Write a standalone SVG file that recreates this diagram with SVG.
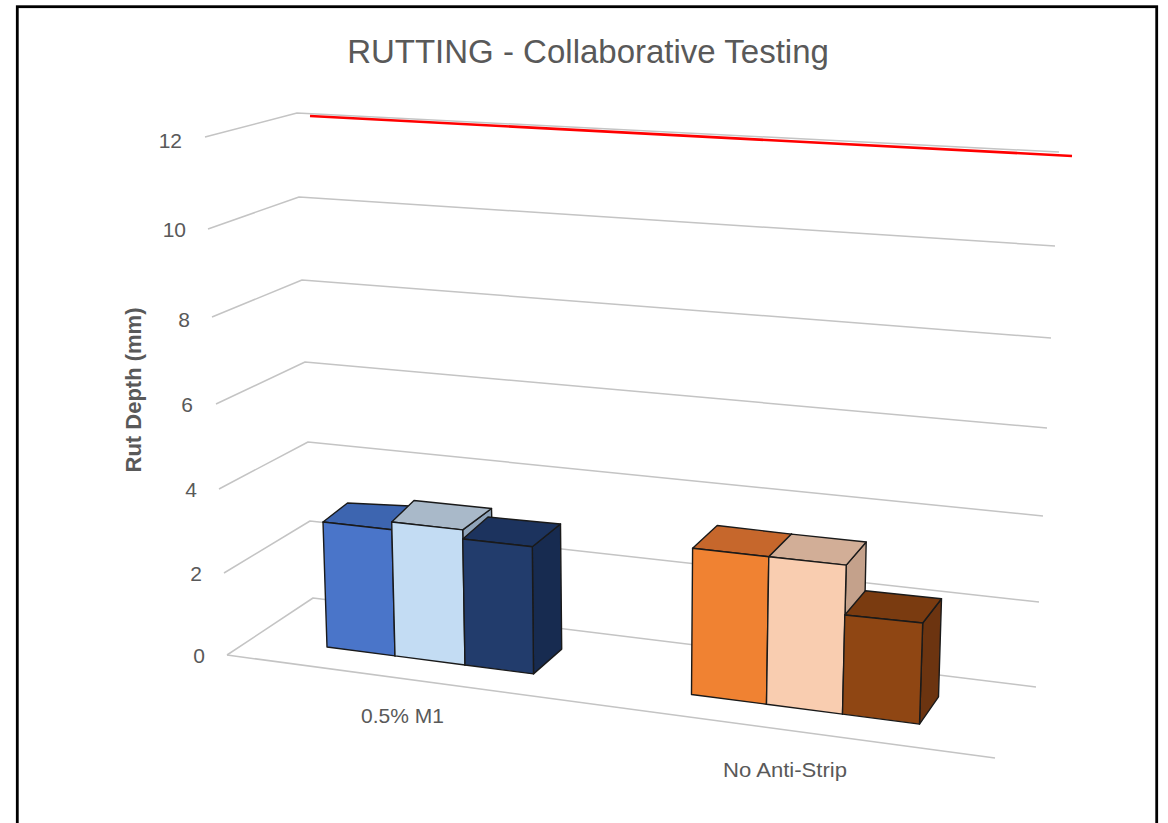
<svg xmlns="http://www.w3.org/2000/svg" width="1168" height="823" viewBox="0 0 1168 823">
  <style>
    .lbl { font-family: "Liberation Sans", Arial, sans-serif; fill: #595959; }
    .tick { font-size: 21px; text-anchor: end; }
    .cat { font-size: 21px; }
    .grid { fill: none; stroke: #c4c4c4; stroke-width: 1.5; stroke-linejoin: round; }
    .face { stroke: #1a1a1a; stroke-width: 1.4; stroke-linejoin: round; }
  </style>

  <!-- chart frame -->
  <rect id="frame" x="0" y="0" width="1168" height="823" fill="#ffffff"/>
  <rect x="17.3" y="6.7" width="1139.4" height="830" fill="none" stroke="#000000" stroke-width="2.8"/>

  <!-- title -->
  <text id="title" class="lbl" x="588" y="63" font-size="33" text-anchor="middle">RUTTING - Collaborative Testing</text>

  <!-- value axis -->
  <g id="value-axis">
    <text class="lbl tick" x="182" y="148">12</text>
    <text class="lbl tick" x="186" y="237">10</text>
    <text class="lbl tick" x="190" y="327">8</text>
    <text class="lbl tick" x="193" y="412">6</text>
    <text class="lbl tick" x="197" y="497">4</text>
    <text class="lbl tick" x="202" y="581">2</text>
    <text class="lbl tick" x="205" y="663">0</text>
    <text class="lbl" transform="translate(141,390) rotate(-90)" font-size="22" font-weight="bold" text-anchor="middle">Rut Depth (mm)</text>
  </g>

  <!-- side wall, back wall and floor gridlines -->
  <g id="gridlines">
    <polyline class="grid" points="205,137 297,113 1059,152"/>
    <polyline class="grid" points="208,229 299,197 1055,246"/>
    <polyline class="grid" points="212,317 302,280 1051,338"/>
    <polyline class="grid" points="216,404 305,362 1047,428"/>
    <polyline class="grid" points="219,489 308,442 1043,516"/>
    <polyline class="grid" points="224,573 310,521 1039,602"/>
    <polyline class="grid" points="227,655 313,598 1036,687"/>
    <line class="grid" x1="227" y1="655" x2="995" y2="758"/>
  </g>

  <!-- limit line -->
  <line id="limit-line" x1="310" y1="116" x2="1072" y2="156" stroke="#ff0000" stroke-width="2.6"/>

  <!-- series columns, painted left to right -->
  <g id="bar-m1-1">
    <polygon class="face" fill="#3a62ad" points="391.9,529.7 420.5,506.5 423.5,632.1 395,655.9"/>
    <polygon class="face" fill="#3d65b0" points="323,522 391.9,529.7 420.5,506.5 347.5,503"/>
    <polygon class="face" fill="#4a75c9" points="323,522 391.9,529.7 395,655.9 327,647"/>
  </g>
  <g id="bar-m1-2">
    <polygon class="face" fill="#8fa4ba" points="462.7,529.9 491.5,508.5 494.8,640.7 465,665"/>
    <polygon class="face" fill="#a9b9c9" points="391.7,522 462.7,529.9 491.5,508.5 414,500.5"/>
    <polygon class="face" fill="#c3dcf3" points="391.7,522 462.7,529.9 465,665 395,655.9"/>
  </g>
  <g id="bar-m1-3">
    <polygon class="face" fill="#172b50" points="532.3,546.8 560.5,524 561.7,649.1 533.5,673.9"/>
    <polygon class="face" fill="#1c335e" points="462.8,539 532.3,546.8 560.5,524 488,517"/>
    <polygon class="face" fill="#223c6c" points="462.8,539 532.3,546.8 533.5,673.9 465,665"/>
  </g>

  <g id="bar-nas-1">
    <polygon class="face" fill="#b85c25" points="768.8,556.7 791.5,534.1 788.9,677.8 766.5,704.2"/>
    <polygon class="face" fill="#c6672c" points="692.6,548.3 768.8,556.7 791.5,534.1 717.2,525.5"/>
    <polygon class="face" fill="#f08232" points="692.6,548.3 768.8,556.7 766.5,704.2 691.5,694.5"/>
  </g>
  <g id="bar-nas-2">
    <polygon class="face" fill="#c4a18b" points="846.2,565.1 866.2,542 863,687.1 842.5,714.1"/>
    <polygon class="face" fill="#d2ae97" points="768.8,556.7 846.2,565.1 866.2,542 791.5,534.1"/>
    <polygon class="face" fill="#f9cdb0" points="768.8,556.7 846.2,565.1 842.5,714.1 766.5,704.2"/>
  </g>
  <g id="bar-nas-3">
    <polygon class="face" fill="#6c3410" points="922.7,623 941.5,598.8 938.5,696.8 919.5,724.1"/>
    <polygon class="face" fill="#7a3b10" points="844.8,615 922.7,623 941.5,598.8 865.4,590.7"/>
    <polygon class="face" fill="#8f4613" points="844.8,615 922.7,623 919.5,724.1 842.5,714.1"/>
  </g>

  <!-- category axis -->
  <g id="category-axis">
    <text class="lbl cat" x="361" y="723">0.5% M1</text>
    <text class="lbl cat" x="723" y="777" textLength="124" lengthAdjust="spacingAndGlyphs">No Anti-Strip</text>
  </g>
</svg>
